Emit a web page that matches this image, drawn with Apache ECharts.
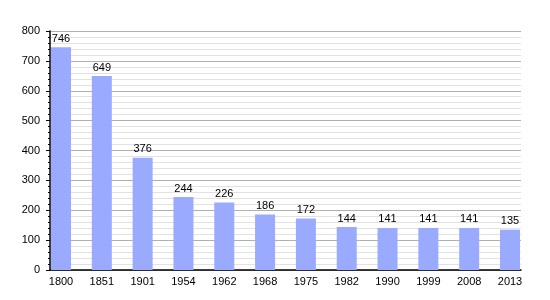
<!DOCTYPE html>
<html><head><meta charset="utf-8">
<script src="https://cdn.jsdelivr.net/npm/echarts@6/dist/echarts.min.js"></script>
<style>html,body{margin:0;padding:0;background:#fff}#c{width:550px;height:300px}</style>
</head><body><div id="c"></div>
<script>
const categories = ['1800','1851','1901','1954','1962','1968','1975','1982','1990','1999','2008','2013'];
const values = [746,649,376,244,226,186,172,144,141,141,141,135];
const yTicks = [0,100,200,300,400,500,600,700,800];

const chart = echarts.init(document.getElementById('c'), null, {renderer:'canvas'});
const font = {fontFamily:'Liberation Sans, Arial, sans-serif', fontSize:11, color:'#000'};
chart.setOption({
  animation:false,
  grid:[
    {left:50, right:29, top:31, bottom:30},
    {left:61, right:40, top:31, bottom:30}
  ],
  xAxis:[
    {gridIndex:0, type:'value', min:0, max:1, show:true,
     axisLine:{show:true, lineStyle:{color:'#000', width:1.5}}, axisTick:{show:false}, axisLabel:{show:false}, splitLine:{show:false}},
    {gridIndex:1, type:'category', data:categories, boundaryGap:false,
     axisLine:{show:false}, axisTick:{show:false},
     axisLabel:Object.assign({margin:6, interval:0}, font)}
  ],
  yAxis:[
    {gridIndex:0, type:'value', min:0, max:800, interval:100,
     axisLine:{show:true, lineStyle:{color:'#000', width:1.5}},
     axisTick:{show:true, inside:false, length:4, lineStyle:{color:'#000'}},
     minorTick:{show:true, splitNumber:5, length:2, lineStyle:{color:'#000'}},
     splitLine:{show:true, lineStyle:{color:'#b0b0b0', width:1}},
     minorSplitLine:{show:true, lineStyle:{color:'#e2e2e2', width:1}},
     axisLabel:Object.assign({margin:10, formatter:v=>yTicks.includes(v)?String(v):''}, font)},
    {gridIndex:1, type:'value', min:0, max:800, show:false}
  ],
  series:[{
    type:'bar', xAxisIndex:1, yAxisIndex:1, data:values, barWidth:20,
    itemStyle:{color:'#99aaff'},
    label:{show:true, position:'top', distance:3, fontFamily:font.fontFamily, fontSize:11, color:'#000'}
  }]
});
</script></body></html>
